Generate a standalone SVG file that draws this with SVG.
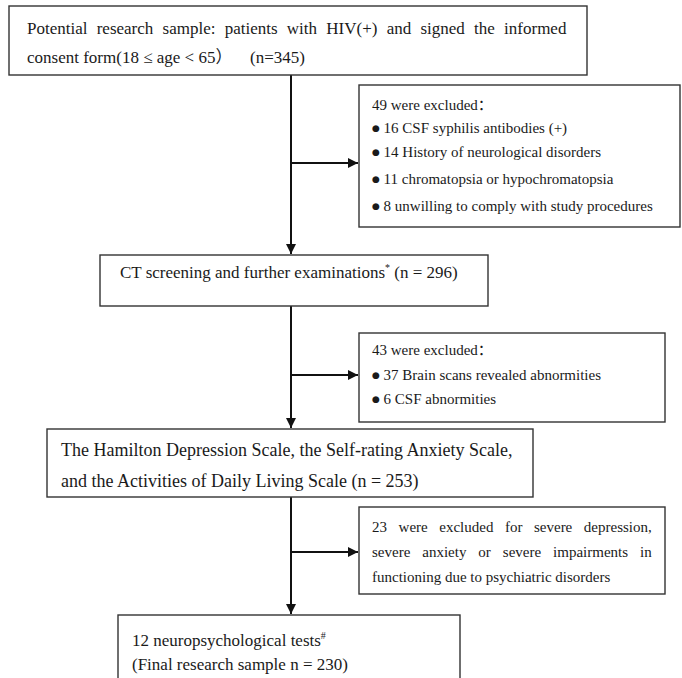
<svg xmlns="http://www.w3.org/2000/svg" width="682" height="678" viewBox="0 0 682 678">
<defs>
<style>
.box{fill:#fff;stroke:#333;stroke-width:1.4}
.t{font-family:"Liberation Serif","Times New Roman","Noto Sans CJK SC",serif;fill:#1a1a1a}
.f17{font-size:17px}
.f18{font-size:18px}
.f15{font-size:15px}
.b{font-family:"DejaVu Sans",sans-serif;font-size:9px}
.sup{font-size:10px}
.c{fill:none;stroke:#111;stroke-width:2}
</style>
<marker id="ah" viewBox="0 0 10 10" refX="10" refY="5" markerWidth="5" markerHeight="5" orient="auto" markerUnits="strokeWidth">
<path d="M0,0 L10,5 L0,10 z" fill="#111"/>
</marker>
</defs>
<rect width="682" height="678" fill="#fff"/>
<g id="connectors">
<path class="c" d="M291,75 V254" marker-end="url(#ah)"/>
<path class="c" d="M291,163 H358" marker-end="url(#ah)"/>
<path class="c" d="M291,306 V428" marker-end="url(#ah)"/>
<path class="c" d="M291,375 H358" marker-end="url(#ah)"/>
<path class="c" d="M291,497 V614" marker-end="url(#ah)"/>
<path class="c" d="M291,552 H358" marker-end="url(#ah)"/>
</g>
<g id="n1">
<rect class="box" x="9" y="6" width="578" height="69"/>
<text class="t f17" x="27" y="34" word-spacing="5">Potential research sample: patients with HIV(+) and signed the informed</text>
<text class="t f17" x="27" y="63">consent form(18 ≤ age &lt; 65）<tspan x="250">(n=345)</tspan></text>
</g>
<g id="n2">
<rect class="box" x="359" y="85" width="321" height="142"/>
<text class="t f15" x="372" y="110">49 were excluded：</text>
<text class="t f15" x="372" y="133"><tspan class="b" dy="-2">●</tspan><tspan dy="2"> 16 CSF syphilis antibodies (+)</tspan></text>
<text class="t f15" x="372" y="157"><tspan class="b" dy="-2">●</tspan><tspan dy="2"> 14 History of neurological disorders</tspan></text>
<text class="t f15" x="372" y="184"><tspan class="b" dy="-2">●</tspan><tspan dy="2"> 11 chromatopsia or hypochromatopsia</tspan></text>
<text class="t f15" x="372" y="211"><tspan class="b" dy="-2">●</tspan><tspan dy="2"> 8 unwilling to comply with study procedures</tspan></text>
</g>
<g id="n3">
<rect class="box" x="100" y="255" width="388" height="51"/>
<text class="t f17" x="120" y="278">CT screening and further examinations<tspan class="sup" dy="-7">*</tspan><tspan dy="7"> (n = 296)</tspan></text>
</g>
<g id="n4">
<rect class="box" x="359" y="333" width="306" height="89"/>
<text class="t f15" x="372" y="355">43 were excluded：</text>
<text class="t f15" x="372" y="380"><tspan class="b" dy="-2">●</tspan><tspan dy="2"> 37 Brain scans revealed abnormities</tspan></text>
<text class="t f15" x="372" y="404"><tspan class="b" dy="-2">●</tspan><tspan dy="2"> 6 CSF abnormities</tspan></text>
</g>
<g id="n5">
<rect class="box" x="47" y="429" width="486" height="68"/>
<text class="t f18" x="61" y="456">The Hamilton Depression Scale, the Self-rating Anxiety Scale,</text>
<text class="t f18" x="61" y="487">and the Activities of Daily Living Scale (n = 253)</text>
</g>
<g id="n6">
<rect class="box" x="359" y="507" width="306" height="87"/>
<text class="t f15" x="372" y="532" word-spacing="7.8">23 were excluded for severe depression,</text>
<text class="t f15" x="372" y="557" word-spacing="8.2">severe anxiety or severe impairments in</text>
<text class="t f15" x="372" y="582">functioning due to psychiatric disorders</text>
</g>
<g id="n7">
<rect class="box" x="118" y="615" width="342" height="80"/>
<text class="t f17" x="132" y="646">12 neuropsychological tests<tspan class="sup" dy="-7">#</tspan></text>
<text class="t f17" x="132" y="670">(Final research sample n = 230)</text>
</g>
</svg>
